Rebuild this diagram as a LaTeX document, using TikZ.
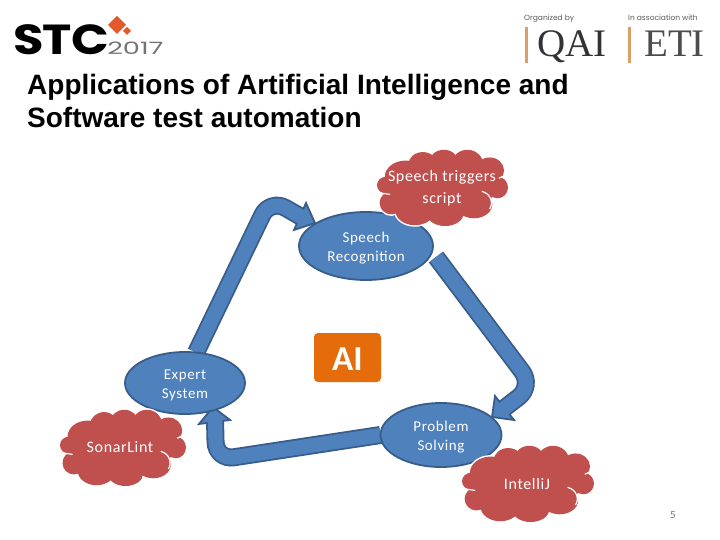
\documentclass[tikz,border=0pt]{standalone}
\usepackage{fontspec}
\setmainfont{Carlito}
\newfontfamily\titlefont{Liberation Sans}
\newfontfamily\logofont{Poppins}
\newfontfamily\serfont{Liberation Serif}
\usetikzlibrary{shapes.geometric}
\definecolor{nodeblue}{HTML}{4F81BD}
\definecolor{edgeblue}{HTML}{385D8A}
\definecolor{cloudred}{HTML}{C0504D}
\definecolor{boxorange}{HTML}{E46C0A}
\definecolor{barorange}{HTML}{D9A066}
\definecolor{logoorange}{HTML}{E2592B}
\pgfdeclarelayer{back}
\pgfsetlayers{back,main}
\tikzset{
  topic/.style={ellipse,draw=edgeblue,line width=1.8pt,fill=nodeblue,inner sep=0pt,outer sep=0pt,text=white,align=center,font=\fontsize{15}{19}\selectfont\addfontfeature{LetterSpace=4}},
  cloudtext/.style={text=white,align=center,inner sep=0pt,font=\fontsize{16}{22}\selectfont\addfontfeature{LetterSpace=4}},
  shaftout/.style={draw=edgeblue,line width=18pt,rounded corners=18pt},
  shaftin/.style={draw=nodeblue,line width=14.4pt,rounded corners=18pt},
  headtip/.style={draw=edgeblue,line width=1.8pt,fill=nodeblue,line join=miter},
  title/.style={anchor=base west,inner sep=0pt,font=\titlefont\bfseries\fontsize{28}{28}\selectfont},
  small/.style={anchor=base west,inner sep=0pt,text=black!65,font=\logofont\fontsize{7.5}{8}\selectfont}
}
\newcommand{\twolines}[2]{\raisebox{-5.5pt}[0pt][0pt]{\begin{tabular}{@{}c@{}}#1\\#2\end{tabular}}}
\newcommand{\bumps}{.50/.50/.40/.38,.07/.47/.07/.11,.11/.70/.09/.15,.29/.80/.15/.19,.52/.84/.14/.16,.74/.72/.14/.18,.92/.50/.08/.14,.86/.28/.11/.17,.69/.20/.12/.19,.51/.17/.11/.16,.35/.20/.11/.16,.22/.36/.16/.21}
\newcommand{\stccloud}[4]{%
  \begin{scope}[shift={(#1,#2)},xscale=#3,yscale=#4]
    \foreach \u/\v/\rx/\ry in \bumps {
      \draw[white,line width=3pt] (\u,\v) ellipse [x radius=\rx,y radius=\ry];
    }
    \foreach \u/\v/\rx/\ry in \bumps {
      \fill[cloudred] (\u,\v) ellipse [x radius=\rx,y radius=\ry];
    }
    \draw[white,line width=1.2pt] (.80,.55) .. controls (.87,.58) and (.89,.70) .. (.86,.78);
    \draw[white,line width=1.2pt] (.02,.57) -- (.10,.59);
    \draw[white,line width=1.2pt] (.93,.38) -- (.98,.34);
  \end{scope}}
\begin{document}
\begin{tikzpicture}[x=1pt,y=-1pt]
\useasboundingbox (0,0) rectangle (720,540);

% logo
\node[name=stc,anchor=base west,inner sep=0pt,xscale=1.18,font=\logofont\bfseries\fontsize{42}{42}\selectfont] at (13,55) {\addfontfeature{LetterSpace=-2}STC};
\node[name=year,anchor=base west,inner sep=0pt,xscale=1.6,text=black!55,font=\logofont\fontsize{17}{17}\selectfont] at (107,55) {2017};
\fill[logoorange] (117,16) -- (126,25) -- (117,34) -- (108,25) -- cycle;
\fill[logoorange] (127,27) -- (131,31) -- (127,35) -- (123,31) -- cycle;
\node[small,name=org] at (524,21) {Organized by};
\node[small,name=assoc] at (628,21) {In association with};
\fill[barorange] (525,27) rectangle (527.5,63);
\fill[barorange] (628,27) rectangle (631,63);
\node[name=qai,anchor=base west,inner sep=0pt,text=black!80,font=\serfont\fontsize{39}{39}\selectfont] at (537,57) {QAI};
\node[name=eti,anchor=base west,inner sep=0pt,text=black!70,font=\serfont\fontsize{39}{39}\selectfont] at (644,57) {ETI};

% title
\node[title,name=t1] at (27,94.5) {Applications of Artificial Intelligence and};
\node[title,name=t2] at (27,128) {Software test automation};

% topics
\node[topic,name=speech,minimum width=134pt,minimum height=68pt] at (366,246) {\twolines{Speech}{Recognition}};
\node[topic,name=expert,minimum width=120pt,minimum height=62pt] at (185,383) {\twolines{Expert}{System}};
\node[topic,name=problem,minimum width=121pt,minimum height=64pt] at (441,435) {\twolines{Problem}{Solving}};

% AI box
\node[name=ai,fill=boxorange,rounded corners=4pt,minimum width=67pt,minimum height=49pt,inner sep=0pt,text=white,font=\bfseries\fontsize{35}{35}\selectfont] at (347.5,357.5) {\raisebox{-13pt}[0pt][0pt]{AI}};

% arrows
\coordinate (a1s) at (expert.70);
\coordinate (a1b) at (270,199);
\coordinate (a1e) at (303,218);
\coordinate (a2s) at (436,257);
\coordinate (a2b) at (533,386);
\coordinate (a2e) at (502,410);
\coordinate (a3s) at (problem.west);
\coordinate (a3b) at (216,460);
\coordinate (a3e) at (215,420);
\begin{pgfonlayer}{back}
  \path[shaftout] (a1s) -- (a1b) -- (a1e);
  \filldraw[headtip] (315,223) -- (306,203) -- (294,230) -- cycle;
  \path[shaftin] (a1s) -- (a1b) -- (a1e);
  \path[shaftout] (a2s) -- (a2b) -- (a2e);
  \filldraw[headtip] (492,417) -- (495,396) -- (514,420) -- cycle;
  \path[shaftin] (a2s) -- (a2b) -- (a2e);
  \path[shaftout] (a3s) -- (a3b) -- (a3e);
  \filldraw[headtip] (213,407) -- (199,424) -- (230,420) -- cycle;
  \path[shaftin] (a3s) -- (a3b) -- (a3e);
\end{pgfonlayer}

% clouds
\stccloud{377}{149}{131}{77}
\stccloud{60}{409}{126}{77}
\stccloud{462}{445}{132}{77}
\node[cloudtext,name=c1] at (442,188) {Speech triggers\\script};
\node[cloudtext,name=c2] at (120,447) {SonarLint};
\node[cloudtext,name=c3] at (527,484) {IntelliJ};

% page number
\node[name=pg,inner sep=0pt,text=black!55,font=\fontsize{11}{11}\selectfont] at (673,515) {5};
\end{tikzpicture}
\end{document}
